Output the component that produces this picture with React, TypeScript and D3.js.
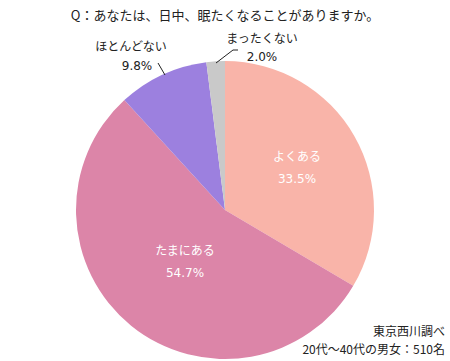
import React from "react";
import * as d3 from "d3";

const categories = ["よくある", "たまにある", "ほとんどない", "まったくない"];
const values = [33.5, 54.7, 9.8, 2.0];
const colors = ["#F9B4A9", "#DC85A8", "#9C80DF", "#C9C9C9"];
const title = "Q：あなたは、日中、眠たくなることがありますか。";
const notes = ["東京西川調べ", "20代～40代の男女：510名"];

const W = 450, H = 361;
const cx = 225, cy = 210, R = 149;
const font = "'Noto Sans CJK JP', sans-serif";
const numFont = "'DejaVu Sans', sans-serif";

export default function App() {
  const pie = d3.pie<number>().sort(null).value((d) => d)(values);
  const arc = d3.arc<d3.PieArcDatum<number>>().innerRadius(0).outerRadius(R);
  const fmt = (v: number) => v.toFixed(1) + "%";

  const inside = [
    [297, 157],
    [185, 251],
  ];

  return (
    <svg width={W} height={H} style={{ position: "absolute", left: 0, top: 0, fontFamily: font }}>
      <text x={225} y={20} textAnchor="middle" fontSize={13} fill="#222">{title}</text>
      <g transform={`translate(${cx},${cy})`}>
        {pie.map((p, i) => (
          <path key={i} d={arc(p) || ""} fill={colors[i]} />
        ))}
      </g>
      {[0, 1].map((i) => (
        <g key={i} fill="#fff" fontSize={12} textAnchor="middle">
          <text x={inside[i][0]} y={inside[i][1] + 4}>{categories[i]}</text>
          <text x={inside[i][0]} y={inside[i][1] + 26} fontFamily={numFont}>{fmt(values[i])}</text>
        </g>
      ))}
      <g fontSize={12} fill="#222" textAnchor="middle">
        <text x={131} y={51}>{categories[2]}</text>
        <text x={137} y={70} fontFamily={numFont}>{fmt(values[2])}</text>
        <text x={262} y={43}>{categories[3]}</text>
        <text x={262} y={61} fontFamily={numFont}>{fmt(values[3])}</text>
      </g>
      <polyline points="158,63 165,75" fill="none" stroke="#222" strokeWidth={1} />
      <polyline points="216,63 233,50 238,50" fill="none" stroke="#222" strokeWidth={1} />
      <g fontSize={12} fill="#222" textAnchor="end">
        <text x={445} y={336}>{notes[0]}</text>
        <text x={445} y={354}>{notes[1]}</text>
      </g>
    </svg>
  );
}
